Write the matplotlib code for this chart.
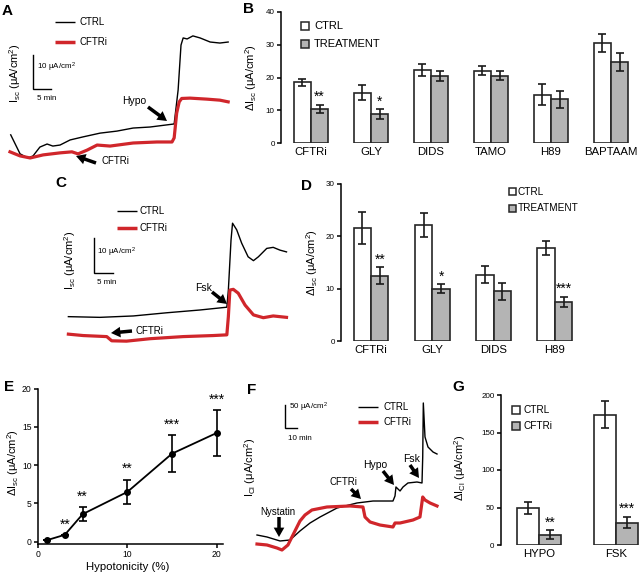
import numpy as np
import matplotlib
matplotlib.use('Agg')
import matplotlib.pyplot as plt
from matplotlib.lines import Line2D
from matplotlib.patches import Rectangle

plt.rcParams['font.family'] = ['Liberation Sans', 'DejaVu Sans']
plt.rcParams['mathtext.default'] = 'regular'

# ---------------- data ----------------
# Panel A traces (time in min, Isc in uA/cm2, relative)
A_ctrl_t = [0.2, 2.8, 5.0, 6.4, 8.3, 10.3, 11.9, 13.9, 16.7, 20.3, 25.0, 29.7, 34.2, 38.9, 45.6,
            46.7, 47.5, 48.1, 49.2, 50.8, 52.8, 55.6, 58.3, 60.6]
A_ctrl_I = [7.4, 1.8, 0.6, 1.2, 3.8, 4.7, 4.1, 4.4, 5.9, 6.8, 7.9, 8.5, 9.4, 9.7, 10.6,
            20.6, 33.8, 35.9, 35.6, 36.5, 35.9, 34.7, 34.4, 34.7]
A_cftr_t = [0, 2.8, 5.6, 9.2, 13.9, 17.2, 18.9, 21.4, 24.2, 27.8, 34.2, 40.8, 45.0, 45.6,
            46.3, 47.0, 47.7, 50.0, 54.7, 58.3, 60.6]
A_cftr_I = [2.4, 1.2, 0.6, 1.5, 2.1, 2.4, 1.8, 2.9, 4.4, 4.1, 5.0, 5.3, 5.3, 6.5,
            13.8, 17.1, 18.1, 18.2, 17.9, 17.6, 17.1]

# Panel B
B_cats = ['CFTRi', 'GLY', 'DIDS', 'TAMO', 'H89', 'BAPTAAM']
B_ctrl = [18.5, 15.4, 22.3, 22.1, 14.8, 30.6]
B_ctrl_err = [1.1, 2.2, 1.8, 1.3, 3.3, 2.7]
B_treat = [10.5, 8.8, 20.5, 20.5, 13.3, 24.8]
B_treat_err = [1.2, 1.5, 1.5, 1.4, 2.7, 2.8]
B_sig = ['**', '*', '', '', '', '']

# Panel C traces
C_ctrl_t = [0.1, 8.4, 17.2, 25.9, 34.7, 41.8, 42.2, 42.9, 43.3, 44.4, 45.7, 47.4, 48.8, 50.1,
            52.3, 54.0, 55.8, 57.5]
C_ctrl_I = [8.1, 7.9, 8.3, 9.2, 10.0, 10.8, 15.7, 30.0, 34.8, 32.9, 29.1, 25.2, 24.1, 25.2,
            27.6, 27.9, 27.1, 26.6]
C_cftr_t = [0.1, 4.0, 10.2, 11.5, 15.4, 21.6, 30.3, 38.2, 41.8, 42.2, 42.6, 43.5, 44.8, 46.6,
            48.8, 51.4, 54.0, 57.5]
C_cftr_I = [3.1, 2.7, 2.4, 1.2, 1.1, 1.8, 2.4, 2.7, 2.9, 8.1, 15.7, 15.9, 14.8, 11.4,
            8.6, 7.8, 8.3, 7.9]

# Panel D
D_cats = ['CFTRi', 'GLY', 'DIDS', 'H89']
D_ctrl = [21.6, 22.2, 12.7, 17.8]
D_ctrl_err = [3.1, 2.3, 1.6, 1.4]
D_treat = [12.5, 10.0, 9.5, 7.5]
D_treat_err = [1.6, 0.8, 1.6, 0.95]
D_sig = ['**', '*', '', '***']

# Panel E
E_hypo = [1, 3, 5, 10, 15, 20]
E_disc = [0.2, 0.9, 3.6, 6.5, 11.5, 14.2]
E_err = [0.0, 0.0, 0.95, 1.6, 2.4, 2.95]
E_sig = ['', '**', '**', '**', '***', '***']

# Panel F traces
F_ctrl_t = [0, 8.3, 19.2, 27.5, 35.8, 44.2, 52.5, 66.7, 83.3, 96.7, 113.3, 115.0, 115.8, 117.5,
            119.2, 121.7, 125.8, 133.3, 137.5, 138.1, 138.6, 140.0, 142.5, 146.7, 150.0]
F_ctrl_I = [32.6, 28.3, 19.6, 21.7, 41.3, 58.7, 71.7, 91.3, 102.2, 106.5, 106.5, 117.4, 137.0, 132.6,
            128.3, 137.0, 145.7, 147.8, 145.7, 202.2, 319.6, 245.7, 223.9, 213.0, 208.7]
F_cftr_t = [0, 8.3, 16.7, 20.8, 25.8, 30.8, 35.8, 40.0, 45.8, 58.3, 77.5, 88.3, 90.0, 94.2,
            102.5, 113.3, 115.0, 119.2, 130.0, 135.8, 138.1, 140.0, 144.2, 150.0]
F_cftr_I = [13.0, 10.9, 4.3, 0, 10.9, 37.0, 63.0, 76.1, 87.0, 93.5, 95.7, 93.5, 71.7, 60.9,
            54.3, 50.0, 58.7, 58.7, 65.2, 71.7, 115.2, 108.7, 102.2, 95.7]

# Panel G
G_cats = ['HYPO', 'FSK']
G_ctrl = [50, 174]
G_ctrl_err = [8, 18.5]
G_treat = [14, 30]
G_treat_err = [6, 7.5]
G_sig = ['**', '***']

RED = '#d0262b'
GRAY = '#b4b4b4'
EDGE = '#262626'

W, H = 640, 574
fig = plt.figure(figsize=(6.4, 5.74), dpi=100)


def pbox(l, t, r, b):
    return [l / W, 1 - b / H, (r - l) / W, (b - t) / H]


def ftext(x, y, s, **kw):
    kw.setdefault('ha', 'center')
    kw.setdefault('va', 'center')
    fig.text(x / W, 1 - y / H, s, **kw)


def fline(x1, y1, x2, y2, **kw):
    fig.add_artist(Line2D([x1 / W, x2 / W], [1 - y1 / H, 1 - y2 / H],
                          transform=fig.transFigure, solid_capstyle='butt', **kw))


def fsquare(x, y, fc, size=8):
    fig.add_artist(Rectangle((x / W, 1 - (y + size / 2) / H), size / W, size / H,
                             transform=fig.transFigure, fc=fc, ec=EDGE, lw=1.1))


def farrow(tail, head, ms=9):
    fig.add_artist(matplotlib.patches.FancyArrowPatch(
        (tail[0] / W, 1 - tail[1] / H), (head[0] / W, 1 - head[1] / H),
        transform=fig.transFigure,
        arrowstyle='simple,head_length=0.75,head_width=0.85,tail_width=0.28',
        mutation_scale=ms, color='black', lw=0, shrinkA=0, shrinkB=0))


def trace_ax(l, t, r, b, x0, y0, pxmin, pxunit):
    ax = fig.add_axes(pbox(l, t, r, b))
    ax.set_xlim((l - x0) / pxmin, (r - x0) / pxmin)
    ax.set_ylim((y0 - b) / pxunit, (y0 - t) / pxunit)
    ax.axis('off')
    return ax


def scalebar(ax, t0, i0, dt, di):
    ax.plot([t0, t0, t0 + dt], [i0 + di, i0, i0], color='black', lw=1.0,
            solid_joinstyle='miter', clip_on=False)


def bar_panel(box, cats, ctrl, ctrl_err, treat, treat_err, sig, ylim, yticks, xlim, width):
    ax = fig.add_axes(pbox(*box))
    x = np.arange(len(cats))
    ekw = dict(ecolor='#1a1a1a', elinewidth=1.2, capsize=3, capthick=1.2)
    ax.bar(x - width / 2, ctrl, width, color='white', edgecolor=EDGE, lw=1.2,
           yerr=ctrl_err, error_kw=ekw)
    ax.bar(x + width / 2, treat, width, color=GRAY, edgecolor=EDGE, lw=1.2,
           yerr=treat_err, error_kw=ekw)
    for i, s in enumerate(sig):
        if s:
            ax.annotate(s, (x[i] + width / 2, treat[i] + treat_err[i]), xytext=(0, 0.5),
                        textcoords='offset points', ha='center', va='bottom', fontsize=10)
    for sp in ['top', 'right', 'bottom']:
        ax.spines[sp].set_visible(False)
    ax.spines['left'].set_linewidth(1.1)
    ax.set_xlim(*xlim)
    ax.set_ylim(*ylim)
    ax.set_yticks(yticks)
    ax.set_xticks(x)
    ax.set_xticklabels(cats, fontsize=8.2)
    ax.tick_params(axis='x', length=0, pad=3)
    ax.tick_params(axis='y', direction='out', length=3, width=1.1, labelsize=5.8, pad=1.5)
    ax.patch.set_visible(False)
    return ax


# ---------------- Panel A ----------------
axA = trace_ax(0, 5, 240, 175, 10, 160, 3.6, 3.4)
axA.plot(A_ctrl_t, A_ctrl_I, color='black', lw=1.0)
axA.plot(A_cftr_t, A_cftr_I, color=RED, lw=2.3)
scalebar(axA, 6.4, 20.9, 5, 10)
ftext(7, 11, 'A', fontsize=11, fontweight='bold')
fline(55, 22, 75, 22, color='black', lw=1.0)
fline(55, 42, 75, 42, color=RED, lw=2.5)
ftext(80, 22, 'CTRL', ha='left', fontsize=7)
ftext(80, 42, 'CFTRi', ha='left', fontsize=7)
ftext(15, 73, r'I$_{sc}$ (μA/cm$^2$)', rotation=90, fontsize=8)
ftext(37, 67, r'10 μA/cm$^2$', ha='left', fontsize=5.8)
ftext(37, 99, '5 min', ha='left', fontsize=5.8)
ftext(134, 101, 'Hypo', fontsize=7.5)
farrow((148, 107), (167, 121))
ftext(101, 161, 'CFTRi', ha='left', fontsize=7)
farrow((96, 163), (76, 156))

# ---------------- Panel B ----------------
bar_panel((281, 12, 635, 143), B_cats, B_ctrl, B_ctrl_err, B_treat, B_treat_err, B_sig,
          (0, 40), [0, 10, 20, 30, 40], (-0.5, 5.4), 0.29)
ftext(248, 9, 'B', fontsize=11, fontweight='bold')
ftext(251, 77, r'ΔI$_{sc}$ (μA/cm$^2$)', rotation=90, fontsize=8)
fsquare(301, 26, 'white')
fsquare(301, 44, GRAY)
ftext(314, 26, 'CTRL', ha='left', fontsize=8)
ftext(314, 44, 'TREATMENT', ha='left', fontsize=8)

# ---------------- Panel C ----------------
axC = trace_ax(60, 195, 300, 360, 68, 345, 3.8, 3.5)
axC.plot(C_ctrl_t, C_ctrl_I, color='black', lw=1.0)
axC.plot(C_cftr_t, C_cftr_I, color=RED, lw=2.3)
scalebar(axC, 6.8, 20.6, 5, 10)
ftext(61, 183, 'C', fontsize=11, fontweight='bold')
fline(117, 211, 137, 211, color='black', lw=1.0)
fline(117, 228, 137, 228, color=RED, lw=2.5)
ftext(140, 211, 'CTRL', ha='left', fontsize=7)
ftext(140, 228, 'CFTRi', ha='left', fontsize=7)
ftext(70, 260, r'I$_{sc}$ (μA/cm$^2$)', rotation=90, fontsize=8)
ftext(97, 252, r'10 μA/cm$^2$', ha='left', fontsize=5.8)
ftext(97, 282, '5 min', ha='left', fontsize=5.8)
ftext(204, 288, 'Fsk', fontsize=7.5)
farrow((212, 292), (227, 304))
ftext(135, 331, 'CFTRi', ha='left', fontsize=7)
farrow((132, 331), (111, 333))

# ---------------- Panel D ----------------
bar_panel((341, 184, 640, 341), D_cats, D_ctrl, D_ctrl_err, D_treat, D_treat_err, D_sig,
          (0, 30), [0, 10, 20, 30], (-0.49, 4.39), 0.285)
ftext(306, 186, 'D', fontsize=11, fontweight='bold')
ftext(312, 262, r'ΔI$_{sc}$ (μA/cm$^2$)', rotation=90, fontsize=8)
fsquare(509, 192, 'white', size=7)
fsquare(509, 208, GRAY, size=7)
ftext(518, 192, 'CTRL', ha='left', fontsize=7.2)
ftext(518, 208, 'TREATMENT', ha='left', fontsize=7.2)

# ---------------- Panel E ----------------
axE = fig.add_axes(pbox(38, 388.5, 223, 544))
axE.errorbar(E_hypo, E_disc, yerr=E_err, color='black', lw=1.3, marker='o', ms=4,
             ecolor='black', elinewidth=1.2, capsize=3, capthick=1.2, clip_on=False)
for xi, yi, ei, s in zip(E_hypo, E_disc, E_err, E_sig):
    if s:
        axE.annotate(s, (xi, yi + ei), xytext=(0, 2.5), textcoords='offset points',
                     ha='center', va='bottom', fontsize=10)
axE.set_xlim(0, 20.7)
axE.set_ylim(-0.3, 20)
axE.set_xticks([0, 10, 20])
axE.set_yticks([0, 5, 10, 15, 20])
for sp in ['top', 'right']:
    axE.spines[sp].set_visible(False)
for sp in ['left', 'bottom']:
    axE.spines[sp].set_linewidth(1.1)
axE.tick_params(direction='out', length=3, width=1.1, labelsize=6.2, pad=1.5)
axE.patch.set_visible(False)
ftext(9, 387, 'E', fontsize=11, fontweight='bold')
ftext(13, 462, r'ΔI$_{sc}$ (μA/cm$^2$)', rotation=90, fontsize=8)
ftext(128, 567, 'Hypotonicity (%)', fontsize=8.2)

# ---------------- Panel F ----------------
axF = trace_ax(245, 385, 450, 560, 257, 550, 1.2, 0.46)
axF.plot(F_ctrl_t, F_ctrl_I, color='black', lw=1.0)
axF.plot(F_cftr_t, F_cftr_I, color=RED, lw=2.3)
scalebar(axF, 23.3, 264.6, 10, 50)
ftext(252, 390, 'F', fontsize=11, fontweight='bold')
fline(358, 407, 378, 407, color='black', lw=1.0)
fline(358, 422, 378, 422, color=RED, lw=2.5)
ftext(383, 407, 'CTRL', ha='left', fontsize=7)
ftext(383, 422, 'CFTRi', ha='left', fontsize=7)
ftext(250, 467, r'I$_{Cl}$ (μA/cm$^2$)', rotation=90, fontsize=8)
ftext(289, 407, r'50 μA/cm$^2$', ha='left', fontsize=5.8)
ftext(288, 439, '10 min', ha='left', fontsize=5.8)
ftext(278, 512, 'Nystatin', fontsize=7)
farrow((279, 517), (279, 537))
ftext(343, 482, 'CFTRi', fontsize=7)
farrow((351, 489), (361, 499))
ftext(375, 465, 'Hypo', fontsize=7.5)
farrow((383, 471), (394, 485))
ftext(412, 459, 'Fsk', fontsize=7.5)
farrow((410, 465), (419, 478))

# ---------------- Panel G ----------------
bar_panel((500.7, 395, 640, 545), G_cats, G_ctrl, G_ctrl_err, G_treat, G_treat_err, G_sig,
          (0, 200), [0, 50, 100, 150, 200], (-0.5, 1.31), 0.286)
ftext(458, 387, 'G', fontsize=11, fontweight='bold')
ftext(460, 468, r'ΔI$_{Cl}$ (μA/cm$^2$)', rotation=90, fontsize=8)
fsquare(512, 410, 'white', size=7.5)
fsquare(512, 426, GRAY, size=7.5)
ftext(523, 410, 'CTRL', ha='left', fontsize=7.2)
ftext(523, 426, 'CFTRi', ha='left', fontsize=7.2)

fig.savefig('out.png', dpi=100)
